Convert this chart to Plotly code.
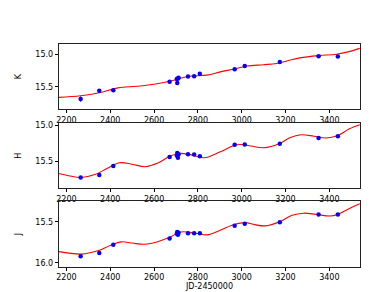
import plotly.graph_objects as go

# Observation epochs (JD-2450000)
jd = [2265, 2350, 2414, 2671, 2704, 2706, 2709, 2712, 2755, 2783, 2809, 2968, 3014, 3174, 3351, 3439]
k_mag = [15.686, 15.56, 15.55, 15.42, 15.38, 15.44, 15.37, 15.36, 15.34, 15.335, 15.30, 15.23, 15.18, 15.12, 15.03, 15.035]
k_err = [0.04, 0.02, 0.02, 0.02, 0.02, 0.03, 0.02, 0.02, 0.02, 0.02, 0.02, 0.02, 0.02, 0.02, 0.02, 0.02]
h_mag = [15.726, 15.69, 15.565, 15.44, 15.42, 15.385, 15.45, 15.40, 15.40, 15.405, 15.43, 15.27, 15.265, 15.255, 15.175, 15.15]
j_mag = [15.92, 15.88, 15.78, 15.705, 15.645, 15.625, 15.66, 15.635, 15.64, 15.64, 15.64, 15.55, 15.525, 15.505, 15.41, 15.41]

# Model curves
k_fit_x = [2165, 2265, 2350, 2435, 2520, 2601, 2677, 2753, 2842, 2903, 2968, 3024, 3100, 3160, 3210, 3266, 3351, 3433, 3490, 3539]
k_fit_y = [15.66, 15.636, 15.59, 15.515, 15.49, 15.46, 15.41, 15.34, 15.32, 15.27, 15.225, 15.18, 15.16, 15.14, 15.10, 15.055, 15.02, 15.0, 14.96, 14.91]
h_fit_x = [2165, 2210, 2268, 2330, 2385, 2441, 2500, 2560, 2620, 2671, 2715, 2770, 2830, 2900, 2968, 2995, 3050, 3100, 3174, 3220, 3270, 3330, 3385, 3439, 3490, 3539]
h_fit_y = [15.67, 15.70, 15.725, 15.685, 15.60, 15.52, 15.54, 15.575, 15.52, 15.43, 15.39, 15.41, 15.45, 15.37, 15.275, 15.265, 15.29, 15.31, 15.25, 15.17, 15.13, 15.15, 15.175, 15.14, 15.05, 14.99]
j_fit_x = [2165, 2268, 2343, 2400, 2450, 2500, 2556, 2620, 2671, 2722, 2790, 2842, 2905, 2968, 3017, 3060, 3107, 3174, 3230, 3282, 3340, 3403, 3439, 3490, 3539]
j_fit_y = [15.865, 15.895, 15.855, 15.79, 15.745, 15.76, 15.775, 15.74, 15.69, 15.625, 15.64, 15.66, 15.60, 15.53, 15.51, 15.535, 15.55, 15.50, 15.42, 15.395, 15.41, 15.43, 15.41, 15.34, 15.28]

panels = [
    ("K", k_mag, k_err, k_fit_x, k_fit_y, [15.842, 14.842], [15.0, 15.5]),
    ("H", h_mag, None, h_fit_x, h_fit_y, [15.874, 14.967], [15.0, 15.5]),
    ("J", j_mag, None, j_fit_x, j_fit_y, [16.048, 15.25], [15.5, 16.0]),
]

W, H = 390, 292
domains_px = [(34.3, 100.3), (114.3, 180.0), (193.3, 259.3)]
xdom = [49 / W, 352 / W]
font = dict(family="DejaVu Sans", size=8, color="#000")

fig = go.Figure()
layout = dict(
    width=W, height=H, margin=dict(l=0, r=0, t=0, b=0),
    paper_bgcolor="white", plot_bgcolor="white", showlegend=False, font=font,
)
for i, (name, mag, err, fx, fy, yr, yt) in enumerate(panels):
    n = "" if i == 0 else str(i + 1)
    fig.add_trace(go.Scatter(x=fx, y=fy, mode="lines", line=dict(color="red", width=1.1, shape="spline", smoothing=1.0),
                             xaxis="x" + n, yaxis="y" + n, hoverinfo="skip"))
    fig.add_trace(go.Scatter(x=jd, y=mag, mode="markers", marker=dict(color="blue", size=4.5),
                             error_y=dict(type="data", array=err, color="blue", thickness=1, width=0, visible=err is not None),
                             xaxis="x" + n, yaxis="y" + n))
    top, bot = domains_px[i]
    layout["xaxis" + n] = dict(
        domain=xdom, range=[2165, 3541], anchor="y" + n,
        tickvals=[2200, 2400, 2600, 2800, 3000, 3200, 3400],
        ticks="outside", ticklen=3, tickwidth=0.8, tickcolor="#000",
        showline=True, linecolor="#222", linewidth=1, mirror=True, showgrid=False, zeroline=False,
        tickfont=font,
        title=dict(text="JD-2450000", font=font, standoff=0) if i == 2 else None,
    )
    layout["yaxis" + n] = dict(
        domain=[1 - bot / H, 1 - top / H], range=yr, anchor="x" + n,
        tickvals=yt, ticktext=[f"{v:.1f}" for v in yt],
        ticks="outside", ticklen=3, tickwidth=0.8, tickcolor="#000",
        showline=True, linecolor="#222", linewidth=1, mirror=True, showgrid=False, zeroline=False,
        tickfont=font, title=dict(text=name, font=font, standoff=12),
    )
fig.update_layout(**layout)
fig.write_html("out.html")
